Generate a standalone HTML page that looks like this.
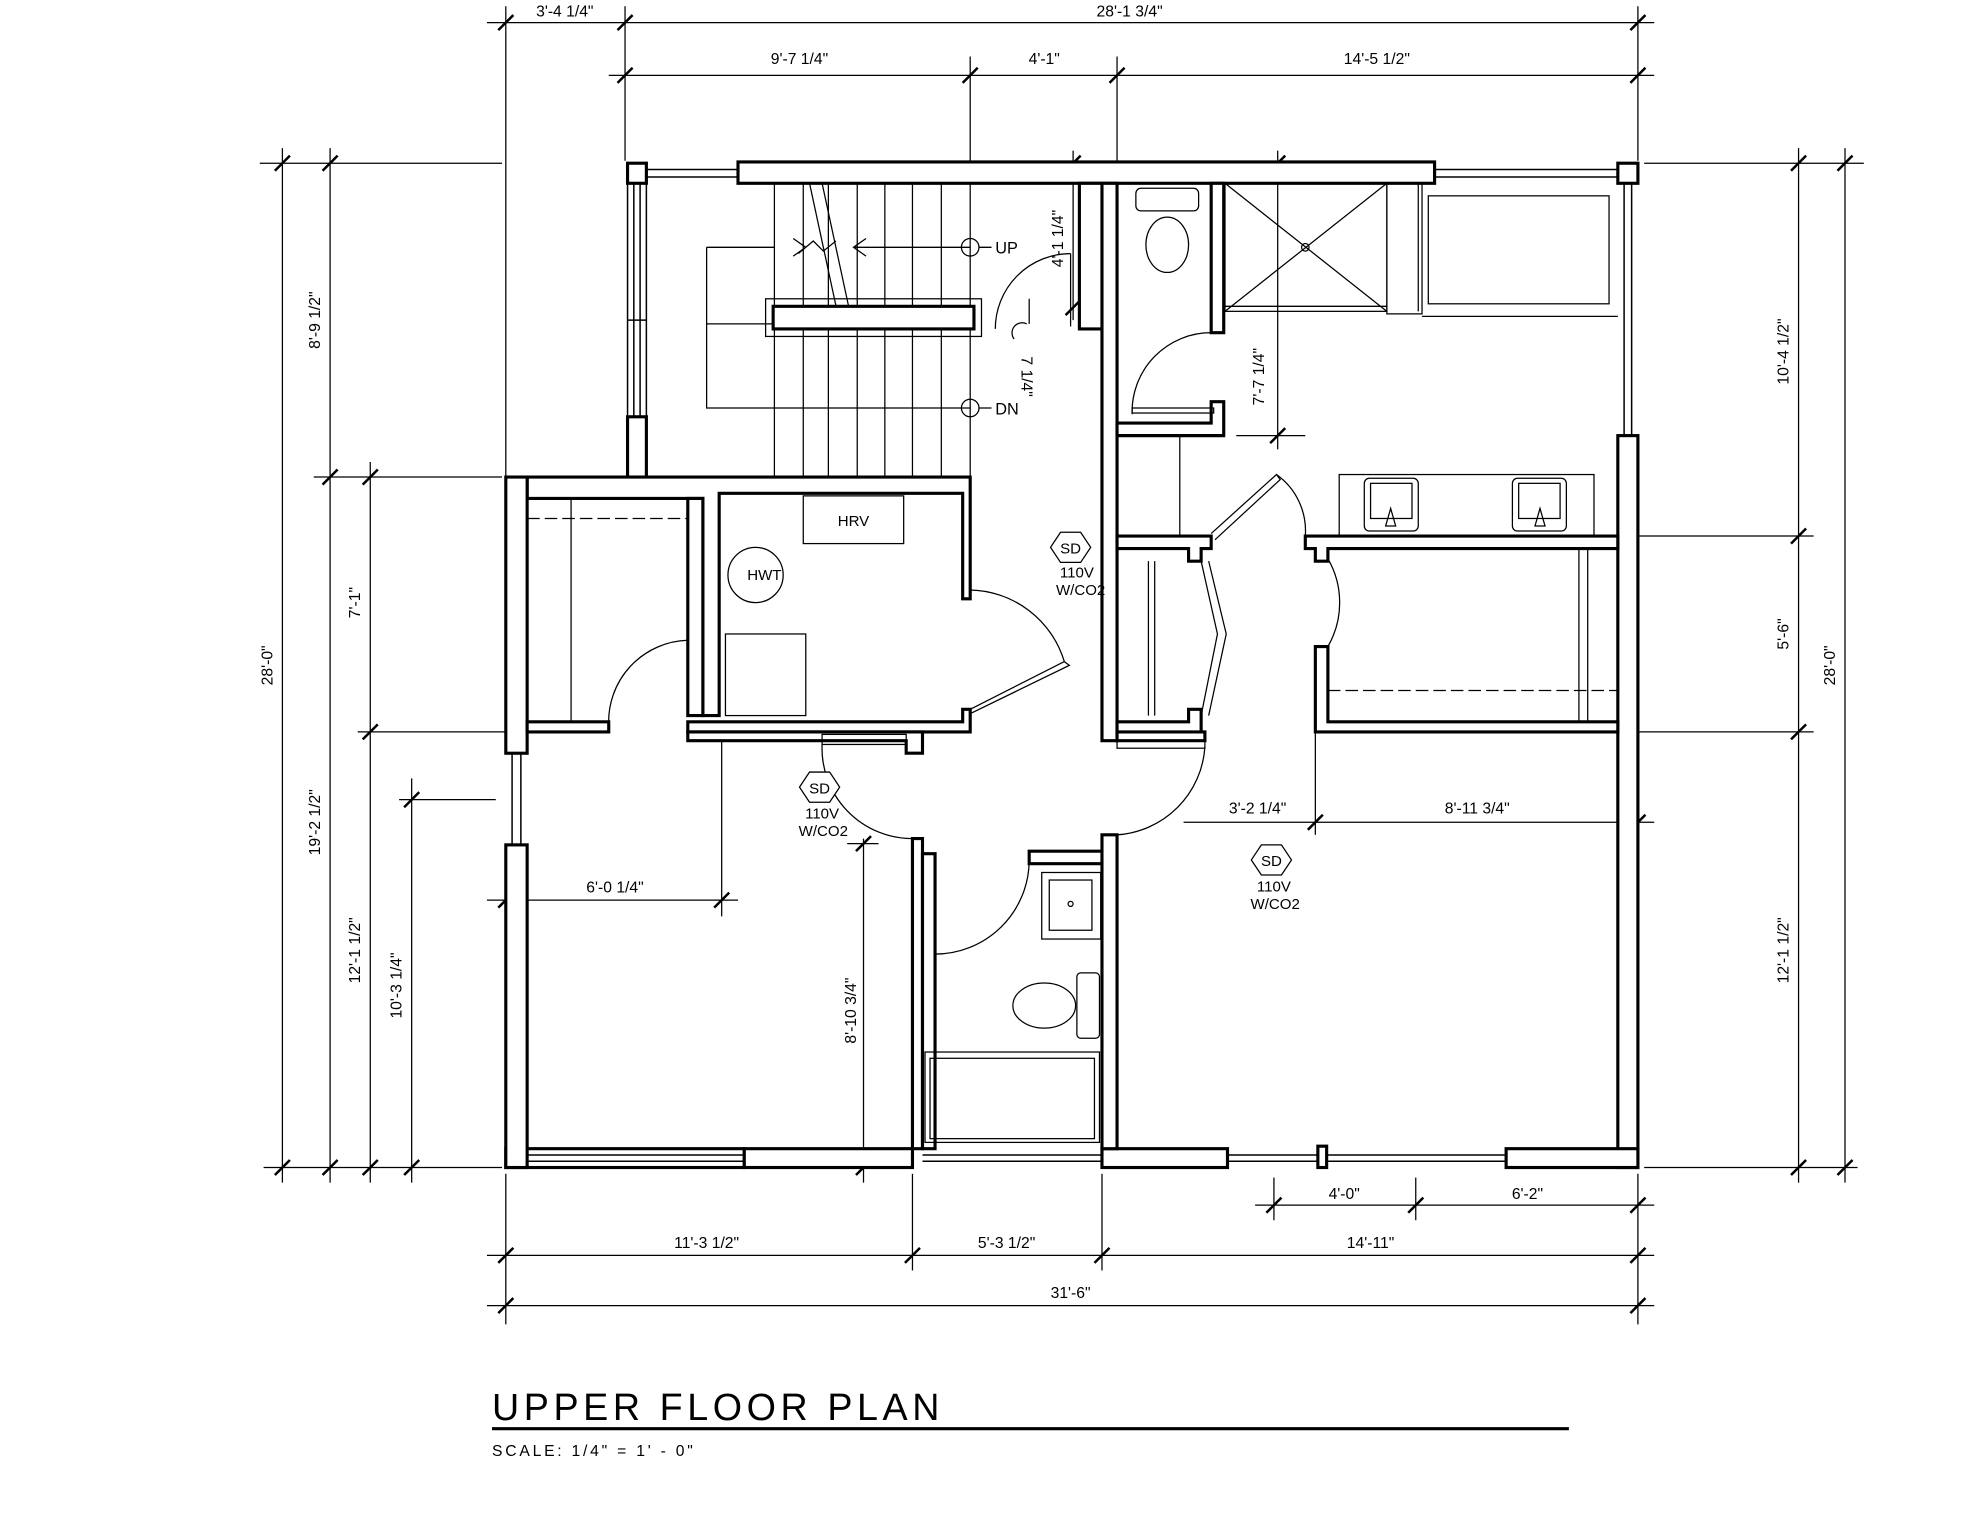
<!DOCTYPE html>
<html><head><meta charset="utf-8"><style>
html,body{margin:0;padding:0;background:#fff;}
svg{display:block;}
text{font-family:"Liberation Sans",sans-serif;fill:#000;}
</style></head><body>
<svg width="1968" height="1514" viewBox="0 0 1568 1206" preserveAspectRatio="none" xmlns="http://www.w3.org/2000/svg">
<rect width="1568" height="1206" fill="#fff"/>
<!-- dimension lines -->
<g stroke="#000" stroke-width="1" fill="none">
<line x1="388" y1="18" x2="1318" y2="18"/>
<line x1="485" y1="60" x2="1318" y2="60"/>
<line x1="403" y1="5" x2="403" y2="380"/><line x1="498" y1="5" x2="498" y2="128"/>
<line x1="773" y1="45" x2="773" y2="380"/><line x1="890" y1="45" x2="890" y2="128"/>
<line x1="1305" y1="5" x2="1305" y2="128"/>
<line x1="225" y1="118" x2="225" y2="942"/><line x1="263" y1="118" x2="263" y2="942"/>
<line x1="295" y1="368" x2="295" y2="942"/><line x1="328" y1="620" x2="328" y2="942"/>
<line x1="207" y1="130" x2="400" y2="130"/><line x1="210" y1="930" x2="400" y2="930"/>
<line x1="250" y1="380" x2="400" y2="380"/><line x1="285" y1="583" x2="403" y2="583"/>
<line x1="318" y1="637" x2="395" y2="637"/>
<line x1="1470" y1="118" x2="1470" y2="942"/><line x1="1433" y1="118" x2="1433" y2="942"/>
<line x1="1310" y1="130" x2="1485" y2="130"/><line x1="1295" y1="427" x2="1445" y2="427"/>
<line x1="1295" y1="583" x2="1445" y2="583"/><line x1="1310" y1="930" x2="1480" y2="930"/>
<line x1="1000" y1="960" x2="1318" y2="960"/>
<line x1="388" y1="1000" x2="1318" y2="1000"/>
<line x1="388" y1="1040" x2="1318" y2="1040"/>
<line x1="403" y1="935" x2="403" y2="1055"/><line x1="1305" y1="935" x2="1305" y2="1055"/>
<line x1="727" y1="935" x2="727" y2="1012"/><line x1="878" y1="935" x2="878" y2="1012"/>
<line x1="1015" y1="938" x2="1015" y2="972"/><line x1="1128" y1="938" x2="1128" y2="972"/>
<line x1="388" y1="717" x2="588" y2="717"/><line x1="575" y1="583" x2="575" y2="730"/>
<line x1="688" y1="668" x2="688" y2="942"/><line x1="675" y1="672" x2="700" y2="672"/>
<line x1="943" y1="655" x2="1318" y2="655"/><line x1="1048" y1="583" x2="1048" y2="665"/>
<line x1="1018" y1="120" x2="1018" y2="358"/><line x1="985" y1="347" x2="1040" y2="347"/>
<line x1="855" y1="120" x2="855" y2="255"/>
<line x1="820" y1="238" x2="820" y2="258"/>
</g>
<g stroke="#000" stroke-width="2">
<path d="M397 24l12-12M492 24l12-12M1299 24l12-12M492 66l12-12M767 66l12-12M884 66l12-12M1299 66l12-12
M219 136l12-12M219 936l12-12M257 136l12-12M257 386l12-12M257 936l12-12M289 386l12-12M289 589l12-12M289 936l12-12M322 643l12-12M322 936l12-12
M1464 136l12-12M1464 936l12-12M1427 136l12-12M1427 433l12-12M1427 589l12-12M1427 936l12-12
M1009 966l12-12M1122 966l12-12M1299 966l12-12M397 1006l12-12M721 1006l12-12M872 1006l12-12M1299 1006l12-12M397 1046l12-12M1299 1046l12-12
M397 723l12-12M569 723l12-12M682 678l12-12M682 936l12-12M1042 661l12-12M1299 661l12-12M1012 136l12-12M1012 353l12-12M849 136l12-12M849 251l12-12"/>
</g>
<!-- walls -->
<g stroke="#000" stroke-width="2.5" fill="#fff">
<rect x="500" y="130" width="15" height="16"/>
<rect x="588" y="129" width="555" height="17"/>
<rect x="1289" y="130" width="16" height="16"/>
<rect x="1289" y="347" width="16" height="583"/>
<rect x="403" y="915" width="190" height="15"/>
<rect x="593" y="915" width="134" height="15"/>
<rect x="878" y="915" width="100" height="15"/>
<rect x="1200" y="915" width="105" height="15"/>
<rect x="1050" y="913" width="7" height="17"/>
<rect x="403" y="673" width="17" height="257"/>
<rect x="500" y="332" width="15" height="48"/>
<path d="M403 380H773V477H767V393H573V570H560V397H420V380Z"/>
<rect x="403" y="380" width="17" height="220"/>
<path d="M420 575H485V583H420Z"/>
<path d="M548 397H560V570H548Z"/>
<path d="M548 575H767V565H773V583H548Z"/>
<path d="M548 583H735V600H722V590H548Z"/>
<path d="M727 668H735V915H727Z"/>
<path d="M735 680H745V915H735Z"/>
<path d="M820 678H880V688H820Z"/>
<path d="M878 665H890V915H878Z"/>
<path d="M860 146H878V590H890V146H878V262H860Z"/>
<path d="M890 583H960V590H890Z"/>
<path d="M965 146H975V265H965Z"/>
<path d="M965 320H975V347H890V337H965Z"/>
<path d="M890 427H965V437H957V447H947V437H890Z"/>
<path d="M890 575H947V565H957V583H890Z"/>
<path d="M1040 427H1289V437H1058V447H1048V437H1040Z"/>
<path d="M1048 515H1058V575H1289V583H1048Z"/>
</g>
<!-- window thin lines -->
<g stroke="#000" stroke-width="1.2" fill="none">
<path d="M515 135H588M515 141H588M1143 135H1289M1143 141H1289M1294 146V347M1300 146V347M505 146V332M510 146V332
M408 600V673M415 600V673M420 920H593M420 925H593M735 920H878M735 925H878M978 920H1050M978 925H1050M1057 920H1200M1057 925H1200"/>
<line x1="500" y1="146" x2="500" y2="332"/><line x1="515" y1="146" x2="515" y2="332"/>
<line x1="500" y1="255" x2="515" y2="255"/>
</g>
<!-- stairs -->
<g stroke="#000" stroke-width="1" fill="none">
<path d="M617 146V380M640 146V380M660 146V380M683 146V380M705 146V380M727 146V380M750 146V380"/>
<path d="M563 197H617M563 197V325H773M563 258H617"/>
<path d="M680 197H773"/>
<circle cx="773" cy="197" r="7"/><circle cx="773" cy="325" r="7"/>
<path d="M780 197H790M780 325H790"/>
<rect x="610" y="238" width="172" height="30"/>
<path d="M632 190l10 7-10 7M690 190l-10 7 10 7M636 202l12-10 8 8 10-8"/>
<path d="M645 146L670 262M655 146L680 262"/>
<path d="M793 262A60 60 0 0 1 853 202"/>
<path d="M853 202V260"/>
<path d="M808 270A8 8 0 0 1 818 258"/>
</g>
<rect x="616" y="244" width="160" height="18" fill="#fff" stroke="#000" stroke-width="2.5"/>
<text x="793" y="202" font-size="13">UP</text>
<text x="793" y="330" font-size="13">DN</text>
<!-- rooms fixtures -->
<g stroke="#000" stroke-width="1" fill="none">
<path d="M420 413H548" stroke-dasharray="10 4"/>
<path d="M455 397V575"/>
<path d="M548 510A65 65 0 0 0 485 578"/>
<rect x="640" y="395" width="80" height="38"/>
<circle cx="602" cy="458" r="22"/>
<rect x="578" y="505" width="64" height="65"/>
<path d="M773 470A80 80 0 0 1 848 527L773 565"/><path d="M848 527l4 3-78 38"/>
<rect x="655" y="585" width="67" height="8"/>
<path d="M655 593A72 72 0 0 0 727 668"/>
<path d="M745 760A75 75 0 0 0 820 686"/>
<rect x="830" y="695" width="47" height="53"/><rect x="836" y="701" width="34" height="40"/>
<circle cx="853" cy="720" r="2"/>
<rect x="858" y="775" width="18" height="52" rx="3"/>
<ellipse cx="832" cy="801" rx="25" ry="18"/>
<rect x="737" y="838" width="139" height="72"/><rect x="741" y="843" width="131" height="64"/>
<path d="M890 665A75 75 0 0 0 960 595"/><rect x="890" y="590" width="70" height="6"/>
<path d="M1058 445A70 70 0 0 1 1058 515"/>
<path d="M1058 550H1289" stroke-dasharray="10 4"/>
<path d="M1258 437V575M1265 437V575"/>
<path d="M940 347V427"/>
<path d="M957 447L970 505L957 570M963 447L977 505L963 570"/>
<path d="M915 447V570M920 447V570"/>
<path d="M965 425L1017 378L1020 382L968 430"/>
<path d="M1017 378A55 55 0 0 1 1040 427"/>
<rect x="905" y="150" width="50" height="18" rx="4"/>
<ellipse cx="930" cy="195" rx="17" ry="22"/>
<path d="M965 265A63 63 0 0 0 902 330"/>
<rect x="902" y="325" width="65" height="4"/>
<rect x="976" y="146" width="129" height="102"/>
<path d="M976 146L1105 248M1105 146L976 248"/><circle cx="1040" cy="197" r="3"/>
<path d="M976 244H1105M1105 146V250H1133V146M1130 146V248M1133 252H1289"/>
<rect x="1138" y="156" width="144" height="86"/>
<rect x="1067" y="378" width="203" height="49"/>
<rect x="1087" y="381" width="43" height="42" rx="4"/><rect x="1092" y="385" width="33" height="28"/>
<rect x="1205" y="381" width="43" height="42" rx="4"/><rect x="1210" y="385" width="33" height="28"/>
<path d="M1108 405l-4 14h8zM1227 405l-4 14h8z"/>
</g>
<!-- smoke detectors -->
<g stroke="#000" stroke-width="1" fill="#fff">
<polygon points="845,424 861,424 869,436 861,448 845,448 837,436"/>
<polygon points="645,615 661,615 669,627 661,639 645,639 637,627"/>
<polygon points="1005,673 1021,673 1029,685 1021,697 1005,697 997,685"/>
</g>
<g font-size="12" text-anchor="middle">
<text x="853" y="441">SD</text><text x="858" y="460">110V</text><text x="861" y="474">W/CO2</text>
<text x="653" y="632">SD</text><text x="655" y="652">110V</text><text x="656" y="666">W/CO2</text>
<text x="1013" y="690">SD</text><text x="1015" y="710">110V</text><text x="1016" y="724">W/CO2</text>
<text x="680" y="419">HRV</text>
<text x="609" y="462">HWT</text>
</g>
<!-- dim labels -->
<g font-size="12.5" text-anchor="middle">
<text x="450" y="13">3'-4 1/4"</text><text x="900" y="13">28'-1 3/4"</text>
<text x="637" y="51">9'-7 1/4"</text><text x="832" y="51">4'-1"</text><text x="1097" y="51">14'-5 1/2"</text>
<text x="1071" y="955">4'-0"</text><text x="1217" y="955">6'-2"</text>
<text x="563" y="994">11'-3 1/2"</text><text x="802" y="994">5'-3 1/2"</text><text x="1092" y="994">14'-11"</text>
<text x="853" y="1034">31'-6"</text>
<text x="490" y="711">6'-0 1/4"</text>
<text x="1002" y="648">3'-2 1/4"</text><text x="1177" y="648">8'-11 3/4"</text>
<text transform="translate(217 530) rotate(-90)">28'-0"</text>
<text transform="translate(255 255) rotate(-90)">8'-9 1/2"</text>
<text transform="translate(255 655) rotate(-90)">19'-2 1/2"</text>
<text transform="translate(287 480) rotate(-90)">7'-1"</text>
<text transform="translate(287 757) rotate(-90)">12'-1 1/2"</text>
<text transform="translate(320 785) rotate(-90)">10'-3 1/4"</text>
<text transform="translate(682 805) rotate(-90)">8'-10 3/4"</text>
<text transform="translate(1007 300) rotate(-90)">7'-7 1/4"</text>
<text transform="translate(847 190) rotate(-90)">4'-1 1/4"</text>
<text transform="translate(814 300) rotate(90)">7 1/4"</text>
<text transform="translate(1425 280) rotate(-90)">10'-4 1/2"</text>
<text transform="translate(1425 505) rotate(-90)">5'-6"</text>
<text transform="translate(1425 757) rotate(-90)">12'-1 1/2"</text>
<text transform="translate(1462 530) rotate(-90)">28'-0"</text>
</g>
<text x="392" y="1131" font-size="30" letter-spacing="1.5" textLength="358">UPPER FLOOR PLAN</text>
<line x1="392" y1="1138" x2="1250" y2="1138" stroke="#000" stroke-width="2.5"/>
<text x="392" y="1160" font-size="12.5" textLength="160">SCALE: 1/4" = 1' - 0"</text>
</svg>
</body></html>
